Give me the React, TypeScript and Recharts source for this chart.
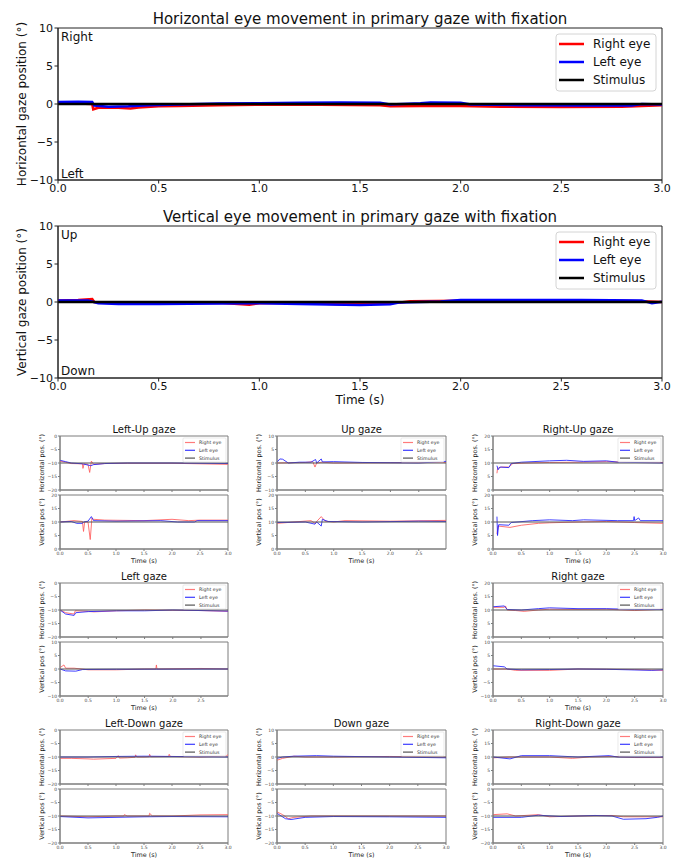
import { Line, LineChart, ReferenceArea, XAxis, YAxis } from "recharts"

type Pt = [number, number]

const FONT = "'DejaVu Sans', 'Liberation Sans', sans-serif"

// tick label lists
const timeTicks = [0, 0.5, 1, 1.5, 2, 2.5, 3]
const timeTicksShort = [0, 0.5, 1, 1.5, 2, 2.5]
const ticksBig = [-10, -5, 0, 5, 10]
const ticksNeg20 = [-20, -15, -10, -5, 0]
const ticksMid10 = [-10, -5, 0, 5, 10]
const ticksPos20 = [0, 5, 10, 15, 20]

// primary gaze, horizontal
const primaryHRight: Pt[] = [[0, 0.05], [0.1, 0.05], [0.17, 0], [0.175, -0.7], [0.2, -0.5], [0.3, -0.5], [0.36, -0.6], [0.4, -0.45], [0.5, -0.3], [0.6, -0.25], [0.8, -0.15], [1.0, -0.1], [1.3, -0.1], [1.6, -0.15], [1.65, -0.3], [1.8, -0.25], [2.0, -0.25], [2.2, -0.35], [2.5, -0.4], [2.8, -0.35], [2.9, -0.25], [3.0, -0.15]]
const primaryHLeft: Pt[] = [[0, 0.25], [0.1, 0.3], [0.17, 0.25], [0.18, -0.2], [0.25, -0.35], [0.35, -0.3], [0.45, -0.15], [0.6, -0.05], [0.8, 0.05], [1.0, 0.1], [1.2, 0.15], [1.4, 0.2], [1.6, 0.15], [1.65, -0.05], [1.8, 0.1], [1.85, 0.2], [2.0, 0.15], [2.05, -0.05], [2.3, -0.15], [2.6, -0.2], [2.85, -0.2], [2.9, 0], [3.0, -0.05]]
const primaryHStim: Pt[] = [[0, 0], [3, 0]]

// primary gaze, vertical
const primaryVRight: Pt[] = [[0, 0.2], [0.1, 0.25], [0.17, 0.4], [0.18, 0], [0.25, -0.1], [0.5, -0.15], [0.8, -0.1], [0.95, -0.35], [1.0, -0.15], [1.2, -0.1], [1.4, -0.3], [1.5, -0.15], [1.7, -0.05], [1.75, 0.1], [2.0, 0.15], [2.5, 0.15], [2.7, 0.2], [2.9, 0.1], [3.0, 0]]
const primaryVLeft: Pt[] = [[0, 0.2], [0.15, 0.2], [0.2, -0.15], [0.3, -0.25], [0.5, -0.25], [0.8, -0.2], [1.0, -0.15], [1.2, -0.25], [1.5, -0.4], [1.65, -0.3], [1.7, -0.05], [1.8, 0], [1.9, 0.05], [2.0, 0.25], [2.3, 0.25], [2.6, 0.25], [2.9, 0.2], [2.95, -0.15], [3.0, 0.05]]
const primaryVStim: Pt[] = [[0, 0], [3, 0]]

// eccentric gaze panels
const leftUpHRight: Pt[] = [[0, -9.3], [0.1, -9.7], [0.2, -10.2], [0.4, -10.3], [0.41, -12], [0.43, -10.3], [0.5, -10.5], [0.53, -13.5], [0.56, -9.3], [0.6, -10.5], [0.8, -10.2], [1.2, -10.1], [2.0, -10.1], [2.5, -10.3], [3.0, -10.5]]
const leftUpHLeft: Pt[] = [[0, -9], [0.1, -9.5], [0.2, -10], [0.4, -10.3], [0.55, -11], [0.6, -10.6], [0.8, -10.2], [1.2, -10], [2.0, -10], [2.5, -10.1], [3.0, -10.2]]
const leftUpVRight: Pt[] = [[0, 10], [0.25, 10.5], [0.4, 10.2], [0.42, 6.5], [0.44, 10], [0.5, 10], [0.54, 3.5], [0.57, 11.5], [0.6, 11], [0.8, 10.7], [1.5, 10.5], [2.0, 11], [2.3, 10.5], [2.5, 10.7], [3.0, 10.7]]
const leftUpVLeft: Pt[] = [[0, 10], [0.2, 10.2], [0.3, 9.5], [0.4, 9.5], [0.42, 10], [0.5, 10.3], [0.56, 12], [0.6, 10.5], [1.0, 10.3], [1.8, 10.5], [2.1, 10], [2.4, 10], [2.45, 10.5], [3.0, 10.5]]

const upHRight: Pt[] = [[0, 0], [0.5, 0.2], [0.63, 0.5], [0.67, -1.5], [0.7, 0], [0.8, 0.3], [1.0, 0], [2.0, 0.1], [2.98, 0.2]]
const upHLeft: Pt[] = [[0, 0.3], [0.05, 1.5], [0.1, 1.4], [0.2, 0], [0.4, 0.3], [0.6, 0.3], [0.68, 1.3], [0.7, 0], [0.78, 1.5], [0.8, 0.4], [1.0, 0.5], [1.5, 0.2], [2.5, 0], [2.98, 0.6]]
const upVRight: Pt[] = [[0, 9.5], [0.3, 10], [0.6, 10.5], [0.67, 9.5], [0.7, 10.2], [0.78, 12], [0.85, 10.3], [1.0, 10], [1.2, 10.5], [2.0, 10.3], [2.98, 10.6]]
const upVLeft: Pt[] = [[0, 9.8], [0.5, 10], [0.67, 9.2], [0.7, 10], [0.78, 8.5], [0.8, 11], [0.9, 10.2], [1.5, 10], [2.5, 10.3], [2.98, 10.2]]

const rightUpHRight: Pt[] = [[0.07, 6.2], [0.08, 8], [0.15, 8.5], [0.28, 8.5], [0.35, 9.8], [0.6, 10], [1.0, 10.2], [1.5, 10.3], [2.0, 10.5], [2.5, 10.3], [3.0, 10.2]]
const rightUpHLeft: Pt[] = [[0.07, 9], [0.09, 7.5], [0.12, 8.5], [0.28, 8.3], [0.32, 9.8], [0.5, 10.3], [1.0, 10.8], [1.3, 11], [1.6, 10.6], [2.0, 10.8], [2.2, 10.3], [3.0, 10]]
const rightUpVRight: Pt[] = [[0.07, 5.5], [0.09, 8.5], [0.3, 8], [0.5, 8.8], [0.8, 9.5], [1.0, 9.7], [1.5, 10], [2.0, 10.2], [2.5, 9.8], [3.0, 9.5]]
const rightUpVLeft: Pt[] = [[0.07, 12], [0.08, 5], [0.1, 9], [0.28, 8.8], [0.32, 9.8], [0.7, 10.5], [1.0, 10.8], [1.4, 10.5], [1.6, 10.8], [2.2, 10.5], [2.48, 10.5], [2.49, 12], [2.5, 10.5], [2.57, 11.5], [2.6, 10.5], [3.0, 10.5]]

const leftHRight: Pt[] = [[0, -10], [0.1, -11], [0.25, -11.5], [0.27, -10.3], [0.5, -10.5], [0.6, -10.7], [1.0, -10.3], [1.5, -10], [2.5, -10.2], [2.98, -10.5]]
const leftHLeft: Pt[] = [[0, -10], [0.1, -11.5], [0.25, -12], [0.28, -11], [0.5, -10.6], [1.0, -10.3], [1.5, -10.3], [2.0, -10], [2.98, -10.4]]
const leftVRight: Pt[] = [[0, 0.5], [0.07, 1.5], [0.1, 0.3], [0.25, 0.3], [0.5, -0.3], [1.0, -0.3], [1.5, 0], [1.7, 0], [1.71, 1.5], [1.72, 0], [2.5, 0.2], [2.98, 0]]
const leftVLeft: Pt[] = [[0, 0], [0.1, -0.7], [0.28, -0.8], [0.4, -0.2], [1.0, -0.1], [2.98, 0]]

const rightHRight: Pt[] = [[0, 11], [0.2, 11], [0.22, 11.5], [0.25, 10], [0.4, 9.8], [0.55, 9.5], [0.8, 10], [1.0, 10.3], [1.5, 10.2], [2.0, 10.3], [2.5, 9.8], [3.0, 10.3]]
const rightHLeft: Pt[] = [[0, 11.2], [0.2, 11.5], [0.25, 10.2], [0.5, 10], [0.8, 10.5], [1.0, 10.8], [1.5, 10.5], [2.0, 10.5], [2.5, 10.2], [3.0, 10.2]]
const rightVRight: Pt[] = [[0, 0], [0.25, 0], [0.4, -0.5], [1.0, -0.5], [1.5, 0], [2.5, -0.2], [3.0, -0.5]]
const rightVLeft: Pt[] = [[0, 1.2], [0.2, 0.8], [0.25, 0], [0.5, -0.3], [1.0, -0.2], [1.5, 0], [2.0, -0.1], [2.8, -0.5], [3.0, -0.3]]

const leftDownHRight: Pt[] = [[0, -10.5], [0.2, -10.5], [0.5, -10.7], [0.6, -10.8], [1.0, -10.5], [1.04, -9.5], [1.06, -10.4], [1.2, -10.3], [1.34, -10.1], [1.35, -9.2], [1.37, -10], [1.5, -10], [1.59, -9.9], [1.6, -9], [1.62, -9.9], [1.94, -9.8], [1.95, -9], [1.97, -9.8], [2.5, -10], [2.98, -9.6], [3.0, -9]]
const leftDownHLeft: Pt[] = [[0, -10], [0.5, -10], [1.0, -9.8], [1.5, -9.7], [2.0, -9.8], [3.0, -10]]
const leftDownVRight: Pt[] = [[0, -10], [0.5, -10.3], [1.0, -10], [1.14, -10], [1.15, -9.5], [1.2, -10], [1.59, -10], [1.6, -9], [1.65, -10], [2.0, -10], [2.5, -9.6], [3.0, -9.5]]
const leftDownVLeft: Pt[] = [[0, -10.2], [0.5, -10.7], [1.0, -10.5], [1.5, -10.3], [2.0, -10.2], [3.0, -10.3]]

const downHRight: Pt[] = [[0, -1.2], [0.1, -0.5], [0.3, 0.3], [0.5, 0], [1.0, 0], [2.0, 0.2], [3.0, -0.1]]
const downHLeft: Pt[] = [[0, -0.5], [0.1, 0], [0.3, 0.3], [0.7, 0.5], [1.0, 0.3], [2.0, 0], [3.0, -0.3]]
const downVRight: Pt[] = [[0, -8.5], [0.1, -9.5], [0.2, -11], [0.3, -10.5], [0.6, -10], [3.0, -10]]
const downVLeft: Pt[] = [[0, -9], [0.15, -11], [0.25, -11.3], [0.5, -10.5], [1.0, -10.2], [2.0, -10.3], [3.0, -10.5]]

const rightDownHRight: Pt[] = [[0, 9.7], [0.3, 10], [1.0, 10], [1.4, 9.5], [1.7, 10], [2.1, 10.2], [2.5, 9.8], [3.0, 9.8]]
const rightDownHLeft: Pt[] = [[0, 10], [0.3, 9.3], [0.5, 10.5], [1.0, 10.5], [1.5, 10], [2.05, 10.5], [2.2, 10], [3.0, 10]]
const rightDownVRight: Pt[] = [[0, -9.5], [0.25, -9.2], [0.4, -10], [0.8, -9.5], [1.0, -10.3], [1.5, -10], [2.1, -9.8], [2.3, -10.3], [3.0, -10.3]]
const rightDownVLeft: Pt[] = [[0, -10.5], [0.5, -10.5], [0.8, -9.7], [1.2, -10.2], [1.8, -9.8], [2.1, -10], [2.3, -11.2], [2.7, -11], [2.9, -10.5], [3.0, -10]]

const gazeTitles = ["Left-Up gaze", "Up gaze", "Right-Up gaze", "Left gaze", "Right gaze", "Left-Down gaze", "Down gaze", "Right-Down gaze"]
const gazeStimH = [-10, 0, 10, -10, 10, -10, 0, 10]
const gazeStimV = [10, 10, 10, 0, 0, -10, -10, -10]
const gazeTimeMax = [3, 2.98, 3, 2.98, 3, 3, 3, 3]
const gazeHRight = [leftUpHRight, upHRight, rightUpHRight, leftHRight, rightHRight, leftDownHRight, downHRight, rightDownHRight]
const gazeHLeft = [leftUpHLeft, upHLeft, rightUpHLeft, leftHLeft, rightHLeft, leftDownHLeft, downHLeft, rightDownHLeft]
const gazeVRight = [leftUpVRight, upVRight, rightUpVRight, leftVRight, rightVRight, leftDownVRight, downVRight, rightDownVRight]
const gazeVLeft = [leftUpVLeft, upVLeft, rightUpVLeft, leftVLeft, rightVLeft, leftDownVLeft, downVLeft, rightDownVLeft]
const gazeHTicks = [ticksNeg20, ticksMid10, ticksPos20, ticksNeg20, ticksPos20, ticksNeg20, ticksMid10, ticksPos20]
const gazeVTicks = [ticksPos20, ticksPos20, ticksPos20, ticksMid10, ticksMid10, ticksNeg20, ticksNeg20, ticksNeg20]

// layout of the 3x3 grid (centre cell empty)
const gazeCell = [[0, 0], [1, 0], [2, 0], [0, 1], [2, 1], [0, 2], [1, 2], [2, 2]]
const colX = [60, 277, 493]
const colW = [168, 169, 170]
const rowY = [436, 583, 730]
const SUB_H = 54
const SUB_STEP = 59

const rows = (pts: Pt[]) => pts.map(([t, v]) => ({ t, v }))
const fmtY = (v: number) => (v < 0 ? `\u2212${-v}` : `${v}`)

interface Trace {
  pts: Pt[]
  color: string
  width: number
  opacity?: number
}

interface AxesProps {
  x: number
  y: number
  w: number
  h: number
  xMax: number
  xTicks: number[]
  showX: boolean
  yTicks: number[]
  traces: Trace[]
  small: boolean
}

function Axes({ x, y, w, h, xMax, xTicks, showX, yTicks, traces, small }: AxesProps) {
  const padL = small ? 20 : 50
  const padB = small ? 10 : 20
  const padT = small ? 5 : 10
  const padR = small ? 8 : 14
  const font = small ? 4.5 : 11
  const axisColor = small ? "#7c7c7c" : "#222"
  const textColor = small ? "#444" : "#111"
  const tickLen = small ? 2 : 3.5
  const yDomain: [number, number] = [yTicks[0], yTicks[yTicks.length - 1]]
  return (
    <div style={{ position: "absolute", left: x - padL, top: y - padT }}>
      <LineChart
        width={padL + w + padR}
        height={padT + h + padB}
        margin={{ top: padT, right: padR, left: 0, bottom: 0 }}
      >
        <XAxis
          dataKey="t"
          type="number"
          domain={[0, xMax]}
          ticks={xTicks}
          interval={0}
          allowDataOverflow
          height={padB}
          tickSize={tickLen}
          tickMargin={small ? 0.5 : 1}
          tick={{ fontSize: font, fill: textColor, fontFamily: FONT }}
          tickLine={{ stroke: axisColor }}
          axisLine={{ stroke: axisColor }}
          tickFormatter={(v: number) => (showX ? v.toFixed(1) : "")}
        />
        <YAxis
          type="number"
          domain={yDomain}
          ticks={yTicks}
          interval={0}
          allowDataOverflow
          width={padL}
          tickSize={tickLen}
          tickMargin={small ? 1 : 1.5}
          tick={{ fontSize: font, fill: textColor, fontFamily: FONT }}
          tickLine={{ stroke: axisColor }}
          axisLine={{ stroke: axisColor }}
          tickFormatter={fmtY}
        />
        {traces.map((tr, i) => (
          <Line
            key={i}
            data={rows(tr.pts)}
            dataKey="v"
            type="linear"
            dot={false}
            activeDot={false}
            stroke={tr.color}
            strokeWidth={tr.width}
            strokeOpacity={tr.opacity ?? 1}
            isAnimationActive={false}
          />
        ))}
        <ReferenceArea
          x1={0}
          x2={xMax}
          y1={yDomain[0]}
          y2={yDomain[1]}
          fill="none"
          fillOpacity={0}
          stroke={axisColor}
          strokeWidth={1}
          ifOverflow="visible"
        />
      </LineChart>
    </div>
  )
}

const BIG_X = 58
const BIG_W = 604
const BIG_H = 152
const BIG_Y = [28, 226]

function BigLegend({ top }: { top: number }) {
  const items: [string, string][] = [["Right eye", "#ff0000"], ["Left eye", "#0000ff"], ["Stimulus", "#000000"]]
  return (
    <g>
      <rect x={556} y={top} width={100} height={57} rx={3} fill="#fff" fillOpacity={0.85} stroke="#d4d4d4" />
      {items.map(([label, color], i) => (
        <g key={label}>
          <line x1={559} x2={584} y1={top + 10 + i * 18} y2={top + 10 + i * 18} stroke={color} strokeWidth={2.5} />
          <text x={593} y={top + 10 + i * 18} dominantBaseline="central" fontSize={12} fill="#111">
            {label}
          </text>
        </g>
      ))}
    </g>
  )
}

function SmallLegend({ right, top }: { right: number; top: number }) {
  const items: [string, string][] = [["Right eye", "#ff7b7b"], ["Left eye", "#3b3bff"], ["Stimulus", "#555"]]
  const bx = right - 45
  const by = top + 2
  return (
    <g>
      <rect x={bx} y={by} width={43} height={24} rx={1} fill="#fff" fillOpacity={0.85} stroke="#dcdcdc" strokeWidth={0.6} />
      {items.map(([label, color], i) => (
        <g key={label}>
          <line x1={bx + 2} x2={bx + 12} y1={by + 4.5 + i * 7.8} y2={by + 4.5 + i * 7.8} stroke={color} strokeWidth={1.2} />
          <text x={bx + 16} y={by + 4.5 + i * 7.8} dominantBaseline="central" fontSize={4.7} fill="#333">
            {label}
          </text>
        </g>
      ))}
    </g>
  )
}

export default function App() {
  const bigTraces = (r: Pt[], l: Pt[], s: Pt[]): Trace[] => [
    { pts: r, color: "#ff0000", width: 2.5 },
    { pts: l, color: "#0000ff", width: 2.5 },
    { pts: s, color: "#000000", width: 2.5 },
  ]
  const smallTraces = (r: Pt[], l: Pt[], stim: number, xMax: number): Trace[] => [
    { pts: r, color: "#ff5c5c", width: 1, opacity: 0.85 },
    { pts: l, color: "#2020ff", width: 1, opacity: 0.85 },
    { pts: [[0, stim], [xMax, stim]], color: "#555", width: 1 },
  ]

  return (
    <div style={{ position: "absolute", left: 0, top: 0, width: 686, height: 859, background: "#fff", fontFamily: FONT }}>
      <Axes x={BIG_X} y={BIG_Y[0]} w={BIG_W} h={BIG_H} xMax={3} xTicks={timeTicks} showX yTicks={ticksBig}
        traces={bigTraces(primaryHRight, primaryHLeft, primaryHStim)} small={false} />
      <Axes x={BIG_X} y={BIG_Y[1]} w={BIG_W} h={BIG_H} xMax={3} xTicks={timeTicks} showX yTicks={ticksBig}
        traces={bigTraces(primaryVRight, primaryVLeft, primaryVStim)} small={false} />

      {gazeTitles.map((title, i) => {
        const [c, r] = gazeCell[i]
        const xMax = gazeTimeMax[i]
        const xt = xMax < 3 ? timeTicksShort : timeTicks
        return (
          <div key={title}>
            <Axes x={colX[c]} y={rowY[r]} w={colW[c]} h={SUB_H} xMax={xMax} xTicks={xt} showX={false}
              yTicks={gazeHTicks[i]} traces={smallTraces(gazeHRight[i], gazeHLeft[i], gazeStimH[i], xMax)} small />
            <Axes x={colX[c]} y={rowY[r] + SUB_STEP} w={colW[c]} h={SUB_H} xMax={xMax} xTicks={xt} showX
              yTicks={gazeVTicks[i]} traces={smallTraces(gazeVRight[i], gazeVLeft[i], gazeStimV[i], xMax)} small />
          </div>
        )
      })}

      <svg width={686} height={859} style={{ position: "absolute", left: 0, top: 0, pointerEvents: "none" }} fontFamily={FONT}>
        <text x={360} y={24} textAnchor="middle" fontSize={15} fill="#111">Horizontal eye movement in primary gaze with fixation</text>
        <text x={360} y={222} textAnchor="middle" fontSize={15} fill="#111">Vertical eye movement in primary gaze with fixation</text>
        <text x={0} y={0} transform="translate(22,104) rotate(-90)" textAnchor="middle" dominantBaseline="central" fontSize={12} fill="#111">
          Horizontal gaze position (°)
        </text>
        <text x={0} y={0} transform="translate(22,302) rotate(-90)" textAnchor="middle" dominantBaseline="central" fontSize={12} fill="#111">
          Vertical gaze position (°)
        </text>
        <text x={360} y={404} textAnchor="middle" fontSize={12} fill="#111">Time (s)</text>
        <text x={61} y={41} fontSize={12} fill="#111">Right</text>
        <text x={61} y={178} fontSize={12} fill="#111">Left</text>
        <text x={61} y={239} fontSize={12} fill="#111">Up</text>
        <text x={61} y={375} fontSize={12} fill="#111">Down</text>
        <BigLegend top={34} />
        <BigLegend top={232} />

        {gazeTitles.map((title, i) => {
          const [c, r] = gazeCell[i]
          const x = colX[c]
          const w = colW[c]
          const y = rowY[r]
          return (
            <g key={title}>
              <text x={x + w / 2} y={y - 3} textAnchor="middle" fontSize={10} fill="#111">{title}</text>
              <text x={0} y={0} transform={`translate(${x - 18},${y + SUB_H / 2}) rotate(-90)`} textAnchor="middle" dominantBaseline="central" fontSize={6.4} fill="#222">
                Horizontal pos. (°)
              </text>
              <text x={0} y={0} transform={`translate(${x - 18},${y + SUB_STEP + SUB_H / 2}) rotate(-90)`} textAnchor="middle" dominantBaseline="central" fontSize={6.4} fill="#222">
                Vertical pos (°)
              </text>
              <text x={x + w / 2} y={y + SUB_STEP + SUB_H + 14} textAnchor="middle" fontSize={6.4} fill="#222">Time (s)</text>
              <SmallLegend right={x + w} top={y} />
            </g>
          )
        })}
      </svg>
    </div>
  )
}
